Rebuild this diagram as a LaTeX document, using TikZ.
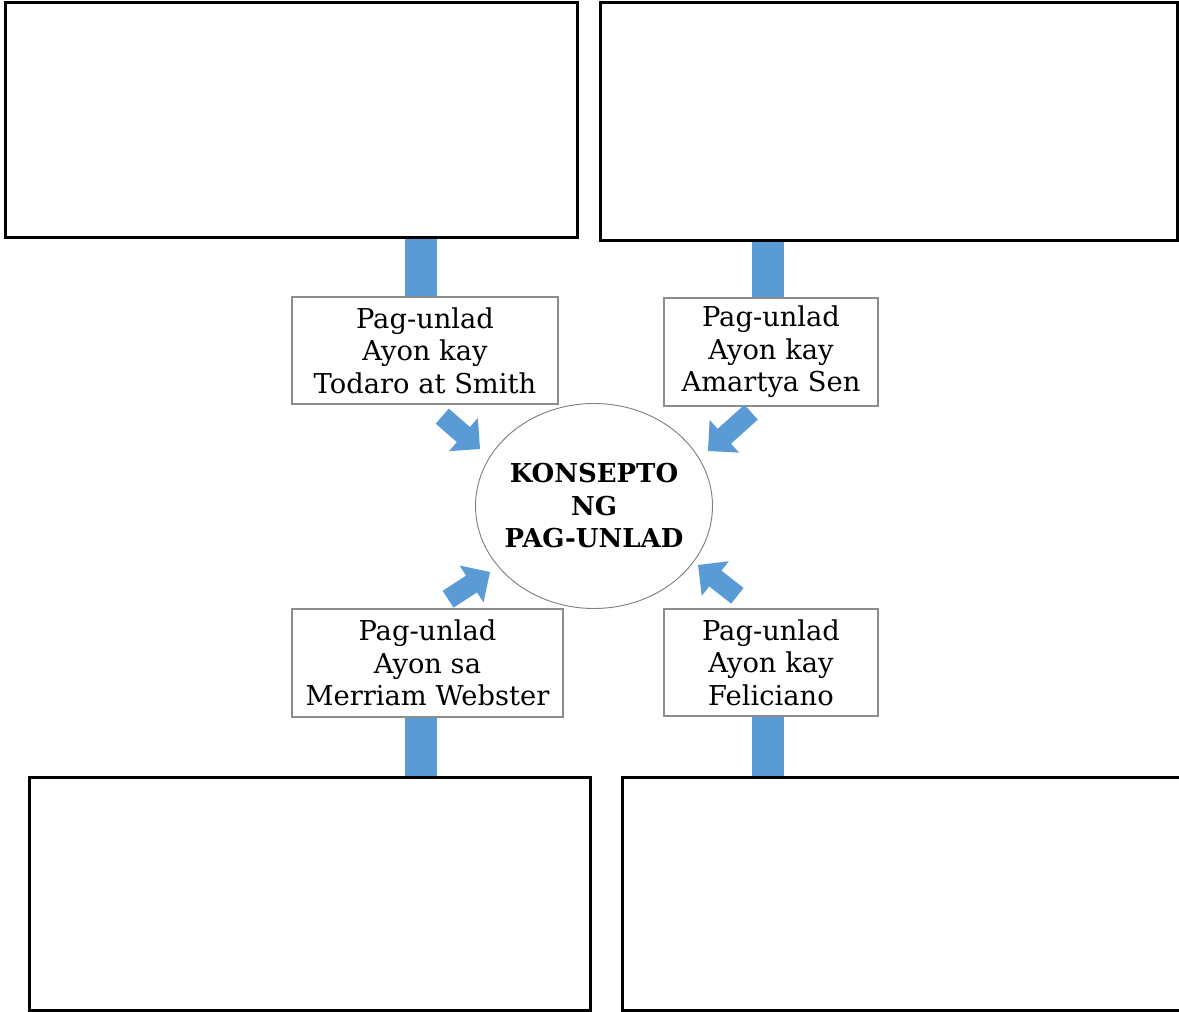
\documentclass[tikz,border=0pt]{standalone}
\usepackage{fontspec}
\setmainfont{DejaVu Serif}
\usetikzlibrary{fit,shapes.geometric}
\definecolor{barblue}{HTML}{5B9BD5}
\definecolor{lblgray}{HTML}{8C8C8C}
\pgfdeclarelayer{background}
\pgfsetlayers{background,main}
\begin{document}
\begin{tikzpicture}[x=0.75pt,y=-0.75pt,
  bigbox/.style={draw=black, line width=2.25pt, inner sep=0pt},
  lbl/.style={draw=lblgray, line width=0.8pt, fill=white, align=center, inner sep=0pt,
    font=\fontsize{20.5}{24.4}\selectfont},
  hub/.style={draw=gray, line width=0.7pt, ellipse, fill=white, align=center,
    inner xsep=-6pt, inner ysep=0pt,
    minimum width=177.75pt, minimum height=153.75pt,
    font=\bfseries\fontsize{19.5}{24.4}\selectfont},
  bar/.style={draw=barblue, line width=24pt},
  pics/barrow/.style={code={
    \fill[barblue] (0,0) -- (-22,-22) -- (-22,-10) -- (-#1,-10) -- (-#1,10) -- (-22,10) -- (-22,22) -- cycle;}}
]
\useasboundingbox (0,0) rectangle (1179,1012);

% large empty boxes
\node[bigbox, fit={(5,3) (577,238)}] (bTL) {};
\node[bigbox, fit={(600,3) (1177,241)}] (bTR) {};
\node[bigbox, fit={(29,777) (590,1010)}] (bBL) {};
\node[bigbox, fit={(622,777) (1195,1010)}] (bBR) {};

% label boxes
\node[lbl, minimum width=199.5pt, minimum height=80.25pt] (lTL) at (425,350.5) {Pag-unlad\\Ayon kay\\Todaro at Smith};
\node[lbl, minimum width=160.5pt, minimum height=81pt] (lTR) at (771,352) {Pag-unlad\\Ayon kay\\Amartya Sen};
\node[lbl, minimum width=203.25pt, minimum height=81pt] (lBL) at (427.5,663) {Pag-unlad\\Ayon sa\\Merriam Webster};
\node[lbl, minimum width=160.5pt, minimum height=80.25pt] (lBR) at (771,662.5) {Pag-unlad\\Ayon kay\\Feliciano};

% central concept
\node[hub] (hub) at (594,506) {KONSEPTO\\NG\\PAG-UNLAD};

% vertical connectors
\begin{pgfonlayer}{background}
\draw[bar] (lTL.north -| 421,0) -- (bTL.south -| 421,0);
\draw[bar] (lTR.north -| 767.5,0) -- (bTR.south -| 767.5,0);
\draw[bar] (lBL.south -| 420.5,0) -- (bBL.north -| 420.5,0);
\draw[bar] (lBR.south -| 768,0) -- (bBR.north -| 768,0);
\end{pgfonlayer}

% block arrows toward the centre
\pic[rotate=-41] at (480,449) {barrow=50};
\pic[rotate=-138] at (708,451) {barrow=58};
\pic[rotate=33] at (490,572) {barrow=50};
\pic[rotate=142] at (698,565) {barrow=50};
\end{tikzpicture}
\end{document}
